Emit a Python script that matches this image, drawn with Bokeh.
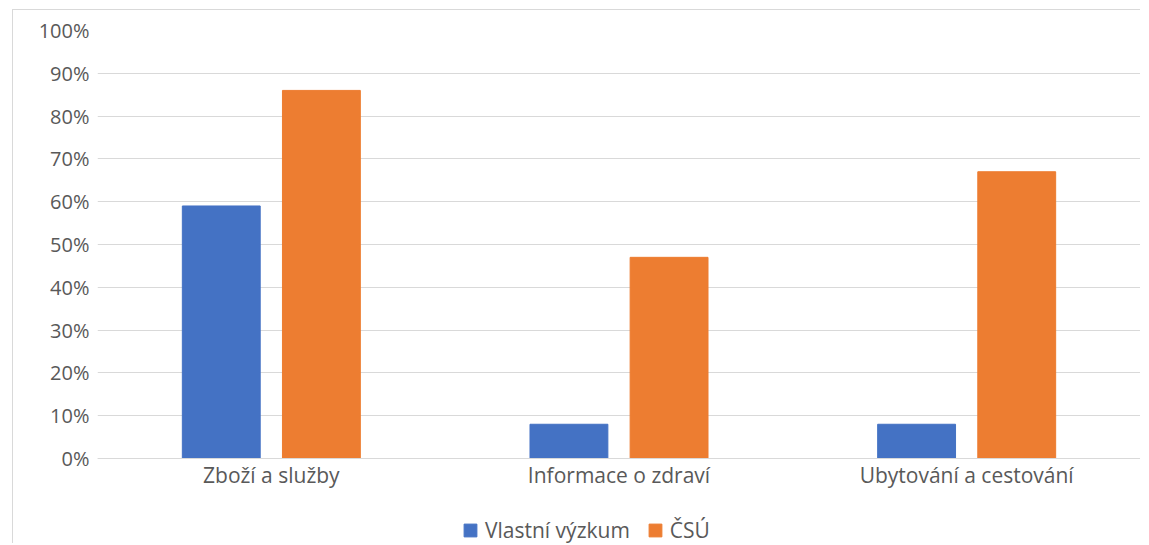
from bokeh.plotting import figure
from bokeh.models import (ColumnDataSource, FactorRange, FixedTicker, NumeralTickFormatter,
                          Legend, LegendItem, Range1d)
from bokeh.transform import dodge
from bokeh.embed import file_html
from bokeh.resources import INLINE

categories = ["Zboží a služby", "Informace o zdraví", "Ubytování a cestování"]
vlastni_vyzkum = [0.59, 0.08, 0.08]
csu = [0.86, 0.47, 0.67]
series_names = ["Vlastní výzkum", "ČSÚ"]
y_ticks = [0.0, 0.1, 0.2, 0.3, 0.4, 0.5, 0.6, 0.7, 0.8, 0.9, 1.0]

BLUE = "#4472C4"
ORANGE = "#ED7D31"
GRID = "#d9d9d9"
TEXT = "#595959"
FONT = "Open Sans"

# frame spans page y 30..544; value 1.0 at y=30 and 0 at y=458 (428 px per unit)
y_bottom = -86 / 428

source = ColumnDataSource(dict(cat=categories, v=vlastni_vyzkum, c=csu))

p = figure(x_range=FactorRange(*categories, range_padding=0), y_range=Range1d(y_bottom, 1.0),
           width=1128, height=534, output_backend="svg", toolbar_location=None,
           min_border_left=84, min_border_right=1, min_border_top=20, min_border_bottom=0,
           styles={"margin-left": "12px", "margin-top": "9px",
                   "border-left": "1px solid #d9d9d9", "border-top": "1px solid #d9d9d9"})

r1 = p.vbar(x=dodge("cat", -0.144, range=p.x_range), top="v", width=0.224,
            source=source, fill_color=BLUE, line_color=BLUE)
r2 = p.vbar(x=dodge("cat", 0.144, range=p.x_range), top="c", width=0.224,
            source=source, fill_color=ORANGE, line_color=ORANGE)

p.outline_line_color = None
p.xgrid.grid_line_color = None
p.ygrid.grid_line_color = GRID
p.ygrid.grid_line_width = 1
p.ygrid.ticker = FixedTicker(ticks=y_ticks)

p.yaxis.ticker = FixedTicker(ticks=y_ticks)
p.yaxis.formatter = NumeralTickFormatter(format="0%")
p.yaxis.axis_line_color = None
p.yaxis.major_tick_line_color = None
p.yaxis.minor_tick_line_color = None
p.yaxis.major_tick_out = 0
p.yaxis.major_tick_in = 0
p.yaxis.major_label_standoff = 8
p.yaxis.major_label_text_font_size = "20px"

p.xaxis.fixed_location = 0
p.xaxis.axis_line_color = GRID
p.xaxis.major_tick_line_color = None
p.xaxis.major_tick_out = 0
p.xaxis.major_tick_in = 0
p.xaxis.major_label_standoff = 2
p.xaxis.major_label_text_font_size = "21px"

for ax in (p.xaxis, p.yaxis):
    ax.major_label_text_font = FONT
    ax.major_label_text_color = TEXT

legend = Legend(items=[LegendItem(label=series_names[0], renderers=[r1]),
                       LegendItem(label=series_names[1], renderers=[r2])],
                orientation="horizontal", location=(365, 0),
                glyph_width=16, glyph_height=16, label_standoff=7, spacing=17,
                padding=0, margin=0, border_line_color=None, background_fill_alpha=0,
                label_text_font=FONT, label_text_font_size="21px", label_text_color=TEXT)
p.add_layout(legend, "center")

open("out.html", "w").write(file_html(p, INLINE))
